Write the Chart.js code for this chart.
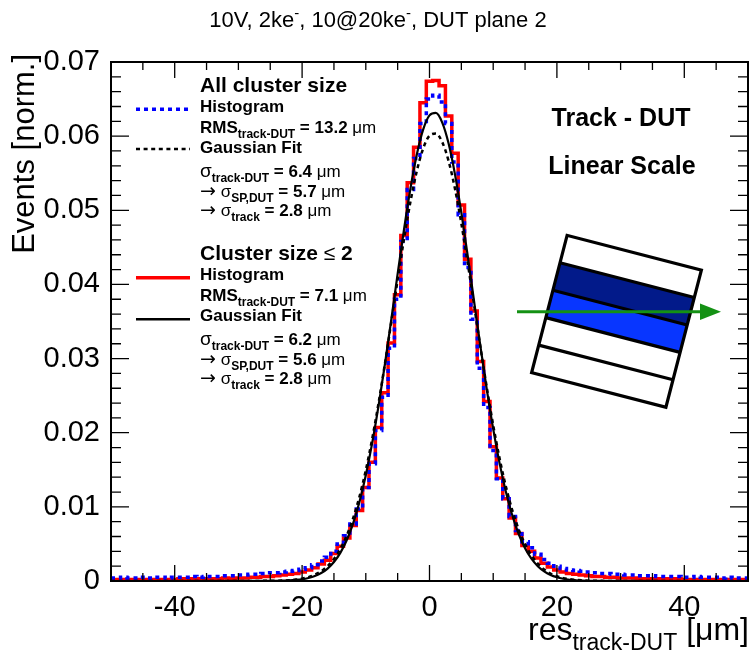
<!DOCTYPE html>
<html>
<head>
<meta charset="utf-8">
<script src="https://cdn.jsdelivr.net/npm/chart.js@4.4.0/dist/chart.umd.min.js"></script>
<style>
  body { margin: 0; background: #fff; }
  #wrap { width: 749px; height: 658px; }
</style>
</head>
<body>
<div id="wrap"><canvas id="c" width="749" height="658"></canvas></div>
<script>
// bin centres of the residual histograms [um]
const binCentres = [
  -50, -49, -48, -47, -46, -45, -44, -43, -42, -41,
  -40, -39, -38, -37, -36, -35, -34, -33, -32, -31,
  -30, -29, -28, -27, -26, -25, -24, -23, -22, -21,
  -20, -19, -18, -17, -16, -15, -14, -13, -12, -11,
  -10, -9, -8, -7, -6, -5, -4, -3, -2, -1,
  0, 1, 2, 3, 4, 5, 6, 7, 8, 9,
  10, 11, 12, 13, 14, 15, 16, 17, 18, 19,
  20, 21, 22, 23, 24, 25, 26, 27, 28, 29,
  30, 31, 32, 33, 34, 35, 36, 37, 38, 39,
  40, 41, 42, 43, 44, 45, 46, 47, 48, 49, 50
];

// cluster size <= 2 (red histogram)
const histSmall = [
  0.0002, 0.0002, 0.0002, 0.0002, 0.0002, 0.0002, 0.0002, 0.0002, 0.0002, 0.0002,
  0.0002, 0.0003, 0.0002, 0.0003, 0.0003, 0.0003, 0.0003, 0.0003, 0.0004, 0.0003,
  0.0004, 0.0004, 0.0005, 0.0005, 0.0006, 0.0006, 0.0007, 0.0008, 0.0009, 0.0010,
  0.0012, 0.0015, 0.0018, 0.0023, 0.0028, 0.0037, 0.0047, 0.0058, 0.0075, 0.0095,
  0.0126, 0.0160, 0.0207, 0.0254, 0.0321, 0.0386, 0.0466, 0.0537, 0.0585, 0.0645,
  0.0674, 0.0675, 0.0668, 0.0627, 0.0577, 0.0507, 0.0434, 0.0364, 0.0296, 0.0242,
  0.0181, 0.0139, 0.0111, 0.0085, 0.0064, 0.0048, 0.0040, 0.0031, 0.0024, 0.0019,
  0.0015, 0.0012, 0.0010, 0.0009, 0.0008, 0.0007, 0.0006, 0.0006, 0.0005, 0.0005,
  0.0004, 0.0004, 0.0004, 0.0003, 0.0003, 0.0003, 0.0003, 0.0003, 0.0002, 0.0003,
  0.0002, 0.0002, 0.0002, 0.0002, 0.0002, 0.0002, 0.0002, 0.0002, 0.0002, 0.0002, 0.0002
];

// all cluster sizes (blue dotted histogram)
const histAll = [
  0.0004, 0.0004, 0.0005, 0.0004, 0.0004, 0.0005, 0.0004, 0.0005, 0.0005, 0.0004,
  0.0005, 0.0005, 0.0005, 0.0006, 0.0005, 0.0006, 0.0006, 0.0006, 0.0007, 0.0007,
  0.0008, 0.0008, 0.0009, 0.0009, 0.0010, 0.0011, 0.0011, 0.0012, 0.0013, 0.0014,
  0.0016, 0.0018, 0.0022, 0.0027, 0.0032, 0.0040, 0.0050, 0.0061, 0.0077, 0.0097,
  0.0126, 0.0158, 0.0203, 0.0248, 0.0314, 0.0380, 0.0458, 0.0528, 0.0570, 0.0617,
  0.0650, 0.0655, 0.0646, 0.0617, 0.0565, 0.0494, 0.0423, 0.0353, 0.0287, 0.0234,
  0.0176, 0.0138, 0.0111, 0.0087, 0.0068, 0.0053, 0.0045, 0.0036, 0.0029, 0.0024,
  0.0020, 0.0017, 0.0015, 0.0014, 0.0013, 0.0012, 0.0011, 0.0010, 0.0010, 0.0009,
  0.0009, 0.0008, 0.0008, 0.0007, 0.0007, 0.0007, 0.0006, 0.0006, 0.0006, 0.0006,
  0.0005, 0.0005, 0.0006, 0.0005, 0.0005, 0.0005, 0.0004, 0.0005, 0.0004, 0.0004, 0.0004
];

// gaussian fit curves, read at these x positions
const fitX = [
  -50, -25, -24, -23, -22, -21, -20, -19, -18, -17, -16, -15, -14, -13, -12, -11,
  -10, -9, -8, -7, -6, -5, -4, -3, -2, -1, 0, 1, 2, 3, 4, 5, 6, 7, 8, 9,
  10, 11, 12, 13, 14, 15, 16, 17, 18, 19, 20, 21, 22, 23, 24, 25, 26, 50
];
const fitSmall = [
  0, 0.00001, 0.00002, 0.00004, 0.00008, 0.00014, 0.00024, 0.00041, 0.00067, 0.00107,
  0.00168, 0.00256, 0.00380, 0.00550, 0.00775, 0.01065,
  0.01426, 0.01859, 0.02361, 0.02923, 0.03525, 0.04142, 0.04742, 0.05289, 0.05748, 0.06087,
  0.06280, 0.06313, 0.06183, 0.05900, 0.05485, 0.04969, 0.04386, 0.03771, 0.03160, 0.02580,
  0.02052, 0.01590, 0.01200, 0.00883, 0.00633, 0.00442, 0.00301, 0.00199, 0.00129, 0.00081,
  0.00050, 0.00030, 0.00017, 0.00010, 0.00005, 0.00003, 0.00002, 0
];
const fitAll = [
  0, 0.00002, 0.00004, 0.00006, 0.00011, 0.00019, 0.00032, 0.00053, 0.00085, 0.00132,
  0.00201, 0.00298, 0.00432, 0.00611, 0.00843, 0.01136,
  0.01494, 0.01916, 0.02398, 0.02930, 0.03493, 0.04064, 0.04614, 0.05112, 0.05527, 0.05832,
  0.06006, 0.06035, 0.05919, 0.05664, 0.05290, 0.04822, 0.04288, 0.03722, 0.03152, 0.02606,
  0.02102, 0.01654, 0.01271, 0.00953, 0.00697, 0.00498, 0.00347, 0.00236, 0.00156, 0.00101,
  0.00064, 0.00039, 0.00024, 0.00014, 0.00008, 0.00004, 0.00002, 0
];

const xTicks = [-40, -20, 0, 20, 40];
const xTickLabels = ['-40', '-20', '0', '20', '40'];
const yTicks = [0, 0.01, 0.02, 0.03, 0.04, 0.05, 0.06, 0.07];
const yTickLabels = ['0', '0.01', '0.02', '0.03', '0.04', '0.05', '0.06', '0.07'];

const FAM = '"Liberation Sans", Arial, Helvetica, sans-serif';
const fnt = (size, bold) => (bold ? 'bold ' : '') + size + 'px ' + FAM;
const ARROW = '19px "DejaVu Sans", sans-serif';

function drawRich(ctx, x, y, parts) {
  parts.forEach(p => {
    ctx.font = p.f;
    ctx.fillText(p.t, x, y + (p.dy || 0));
    x += ctx.measureText(p.t).width;
  });
}
function richWidth(ctx, parts) {
  let w = 0;
  parts.forEach(p => { ctx.font = p.f; w += ctx.measureText(p.t).width; });
  return w;
}

// text block on the left (two groups)
function legendBlock(ctx, y0, head, rms, sig, sp, trk, lineY, lineStyle) {
  const B17 = fnt(17, true), B12 = fnt(12, true), R17 = fnt(17, false), S19 = fnt(19, false);
  const x = 200;
  drawRich(ctx, x, y0, head);
  drawRich(ctx, x, y0 + 20, [{ t: 'Histogram', f: B17 }]);
  drawRich(ctx, x, y0 + 41.5, [{ t: 'RMS', f: B17 }, { t: 'track-DUT', f: B12, dy: 5 }, { t: ' = ' + rms + ' ', f: B17 }, { t: '\u03bcm', f: R17 }]);
  drawRich(ctx, x, y0 + 61.5, [{ t: 'Gaussian Fit', f: B17 }]);
  drawRich(ctx, x, y0 + 85, [{ t: '\u03c3', f: S19 }, { t: 'track-DUT', f: B12, dy: 5 }, { t: ' = ' + sig + ' ', f: B17 }, { t: '\u03bcm', f: R17 }]);
  drawRich(ctx, x, y0 + 105, [{ t: '\u2192', f: ARROW }, { t: ' \u03c3', f: R17 }, { t: 'SP,DUT', f: B12, dy: 5 }, { t: ' = ' + sp + ' ', f: B17 }, { t: '\u03bcm', f: R17 }]);
  drawRich(ctx, x, y0 + 124.5, [{ t: '\u2192', f: ARROW }, { t: ' \u03c3', f: R17 }, { t: 'track', f: B12, dy: 5 }, { t: ' = ' + trk + ' ', f: B17 }, { t: '\u03bcm', f: R17 }]);

  // line samples
  ctx.save();
  lineStyle.forEach((ls, i) => {
    ctx.strokeStyle = ls.c;
    ctx.lineWidth = ls.w;
    ctx.setLineDash(ls.d);
    ctx.beginPath();
    ctx.moveTo(136, lineY[i]);
    ctx.lineTo(190, lineY[i]);
    ctx.stroke();
  });
  ctx.restore();
}

const decorations = {
  id: 'decorations',
  afterDatasetsDraw(chart) {
    const ctx = chart.ctx;
    const a = chart.chartArea;
    const xs = chart.scales.x, ys = chart.scales.y;
    ctx.save();

    // frame
    ctx.strokeStyle = '#000';
    ctx.lineWidth = 2;
    ctx.setLineDash([]);
    ctx.strokeRect(a.left, a.top, a.right - a.left, a.bottom - a.top);

    // inward ticks, ROOT style
    ctx.lineWidth = 1.3;
    ctx.beginPath();
    for (let v = -45; v <= 45; v += 5) {
      const px = xs.getPixelForValue(v);
      const len = xTicks.includes(v) ? 16 : 8;
      ctx.moveTo(px, a.bottom); ctx.lineTo(px, a.bottom - len);
      ctx.moveTo(px, a.top); ctx.lineTo(px, a.top + len);
    }
    for (let k = 1; k < 35; k++) {
      const v = k * 0.002;
      const py = ys.getPixelForValue(v);
      const len = (k % 5 === 0) ? 18 : 10;
      ctx.moveTo(a.left, py); ctx.lineTo(a.left + len, py);
      ctx.moveTo(a.right, py); ctx.lineTo(a.right - len, py);
    }
    ctx.stroke();

    ctx.fillStyle = '#000';
    ctx.textBaseline = 'alphabetic';
    ctx.textAlign = 'left';

    // title
    const title = [
      { t: '10V, 2ke', f: fnt(22, false) }, { t: '-', f: fnt(15, false), dy: -9 },
      { t: ', 10@20ke', f: fnt(22, false) }, { t: '-', f: fnt(15, false), dy: -9 },
      { t: ', DUT plane 2', f: fnt(22, false) }
    ];
    drawRich(ctx, 378 - richWidth(ctx, title) / 2, 27, title);

    // y axis title
    ctx.save();
    ctx.translate(34, 54);
    ctx.rotate(-Math.PI / 2);
    ctx.textAlign = 'right';
    ctx.font = fnt(31, false);
    ctx.fillText('Events [norm.]', 0, 0);
    ctx.restore();

    // x axis title
    const xt = [
      { t: 'res', f: fnt(32, false) },
      { t: 'track-DUT', f: fnt(23, false), dy: 10 },
      { t: ' [\u03bcm]', f: fnt(32, false) }
    ];
    drawRich(ctx, 749 - richWidth(ctx, xt), 640, xt);

    // legend-like text blocks
    legendBlock(ctx, 91.7,
      [{ t: 'All cluster size', f: fnt(21, true) }],
      '13.2', '6.4', '5.7', '2.8', [109.3, 149],
      [{ c: '#0000ff', w: 3.5, d: [4, 4] }, { c: '#000', w: 2.5, d: [4, 3.6] }]);
    legendBlock(ctx, 259.5,
      [{ t: 'Cluster size ', f: fnt(21, true) }, { t: '\u2264', f: fnt(21, false) }, { t: ' 2', f: fnt(21, true) }],
      '7.1', '6.2', '5.6', '2.8', [277.7, 319.3],
      [{ c: '#ff0000', w: 3.5, d: [] }, { c: '#000', w: 2.5, d: [] }]);

    ctx.textAlign = 'center';
    ctx.font = fnt(25, true);
    ctx.fillText('Track - DUT', 621, 126);
    ctx.fillText('Linear Scale', 622, 174);

    // tilted sensor sketch
    ctx.save();
    ctx.translate(616.5, 321.3);
    ctx.rotate(14.5 * Math.PI / 180);
    const w = 138.7, h = 141.7, sh = h / 5;
    ctx.fillStyle = '#021a8a';
    ctx.fillRect(-w / 2, -h / 2 + sh, w, sh);
    ctx.fillStyle = '#0836ff';
    ctx.fillRect(-w / 2, -h / 2 + 2 * sh, w, sh);
    ctx.strokeStyle = '#000';
    ctx.lineWidth = 3.2;
    ctx.strokeRect(-w / 2, -h / 2, w, h);
    ctx.beginPath();
    for (let k = 1; k < 5; k++) {
      ctx.moveTo(-w / 2, -h / 2 + k * sh);
      ctx.lineTo(w / 2, -h / 2 + k * sh);
    }
    ctx.stroke();
    ctx.restore();

    // track arrow
    ctx.strokeStyle = '#149114';
    ctx.fillStyle = '#149114';
    ctx.lineWidth = 3;
    ctx.beginPath();
    ctx.moveTo(517, 311.7);
    ctx.lineTo(702, 311.7);
    ctx.stroke();
    ctx.beginPath();
    ctx.moveTo(721, 311.7);
    ctx.lineTo(700, 303.5);
    ctx.lineTo(700, 319.9);
    ctx.closePath();
    ctx.fill();

    ctx.restore();
  }
};

const pts = (xv, yv) => xv.map((x, i) => ({ x: x, y: yv[i] }));

new Chart(document.getElementById('c'), {
  type: 'line',
  data: {
    datasets: [
      {
        label: 'Gaussian fit, cluster size <= 2',
        data: pts(fitX, fitSmall),
        borderColor: '#000',
        borderWidth: 2.2,
        cubicInterpolationMode: 'monotone',
        pointRadius: 0,
        order: 1
      },
      {
        label: 'Gaussian fit, all cluster sizes',
        data: pts(fitX, fitAll),
        borderColor: '#000',
        borderWidth: 2.5,
        borderDash: [4, 3.6],
        cubicInterpolationMode: 'monotone',
        pointRadius: 0,
        order: 2
      },
      {
        label: 'All cluster sizes',
        data: pts(binCentres, histAll),
        borderColor: '#0000ff',
        borderWidth: 3.5,
        borderDash: [4, 4],
        stepped: 'middle',
        pointRadius: 0,
        order: 3
      },
      {
        label: 'Cluster size <= 2',
        data: pts(binCentres, histSmall),
        borderColor: '#ff0000',
        borderWidth: 3.5,
        stepped: 'middle',
        pointRadius: 0,
        order: 4
      }
    ]
  },
  options: {
    responsive: false,
    animation: false,
    devicePixelRatio: 1,
    layout: { padding: { top: 62, right: 1, left: 0, bottom: 0 } },
    plugins: { legend: { display: false }, tooltip: { enabled: false }, title: { display: false } },
    scales: {
      x: {
        type: 'linear',
        min: -50,
        max: 50,
        grid: { display: false, drawTicks: false },
        border: { display: false },
        afterBuildTicks: s => { s.ticks = xTicks.map(v => ({ value: v })); },
        afterFit: s => { s.height = 77; },
        ticks: {
          autoSkip: false,
          maxRotation: 0,
          padding: 10,
          color: '#000',
          font: { family: FAM, size: 29 },
          callback: (v, i) => xTickLabels[i]
        }
      },
      y: {
        min: 0,
        max: 0.07,
        grid: { display: false, drawTicks: false },
        border: { display: false },
        afterBuildTicks: s => { s.ticks = yTicks.map(v => ({ value: v })); },
        afterFit: s => { s.width = 111; },
        ticks: {
          autoSkip: false,
          padding: 11,
          color: '#000',
          font: { family: FAM, size: 29 },
          callback: (v, i) => yTickLabels[i]
        }
      }
    }
  },
  plugins: [decorations]
});
</script>
</body>
</html>
